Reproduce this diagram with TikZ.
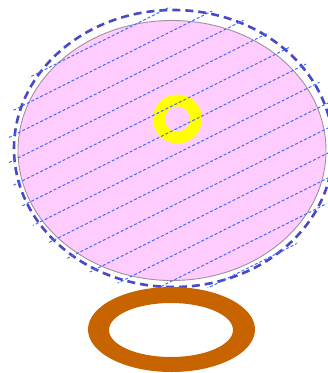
\documentclass[tikz,border=0pt]{standalone}
\usetikzlibrary{calc}
\definecolor{pinkfill}{HTML}{FFCCFF}
\definecolor{pinkline}{HTML}{A0909C}
\definecolor{dashblue}{HTML}{4848C8}
\definecolor{hatchblue}{HTML}{3C6EFF}
\definecolor{ringorange}{HTML}{C86400}
\definecolor{ringyellow}{HTML}{FFFF00}
\tikzset{
  pinkshape/.style={fill=pinkfill, draw=pinkline, line width=0.9pt},
  outerdash/.style={draw=dashblue, line width=2.6pt, dash pattern=on 8pt off 5pt},
  hatchline/.style={draw=hatchblue, line width=1pt, dash pattern=on 3pt off 2pt},
  yellowring/.style={draw=ringyellow, line width=12pt},
  orangering/.style={fill=ringorange, even odd rule}
}
\begin{document}
\begin{tikzpicture}[x=1pt,y=-1pt]
  \useasboundingbox (0,0) rectangle (328,373);
  % pink ellipse
  \path[pinkshape] (172,150.5) ellipse [x radius=154, y radius=130];
  % yellow ring
  \path[yellowring] (177.5,119) circle [radius=18.5];
  % dashed outer ellipse
  \path[outerdash] (173.5,148.5) ellipse [x radius=159.5, y radius=138.5];
  % hatch lines
  \begin{scope}
    \clip (173,149) ellipse [x radius=166, y radius=142];
    \foreach \k in {-7,...,13} {
      \draw[hatchline] (0,{167+25*\k}) -- (340,{167+25*\k-170});
    }
  \end{scope}
  % orange ring
  \path[orangering] (171.5,329.5) ellipse [x radius=83.5, y radius=42.5]
                    (171,330) ellipse [x radius=62, y radius=27];
\end{tikzpicture}
\end{document}
